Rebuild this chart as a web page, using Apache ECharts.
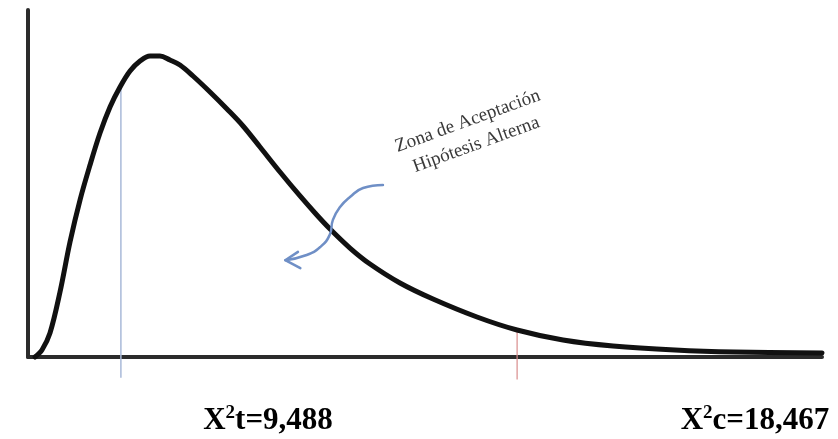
<!DOCTYPE html>
<html>
<head>
<meta charset="utf-8">
<script src="https://cdn.jsdelivr.net/npm/echarts@6/dist/echarts.min.js"></script>
<style>
html,body{margin:0;padding:0;background:#fff;}
#chart{width:838px;height:439px;}
</style>
</head>
<body>
<div id="chart"></div>
<script>
// Curve (arbitrary units: x 0-100, y 0-100)
var curveX = [0.88, 1.76, 2.77, 4.03, 5.29, 6.55, 7.81, 9.07, 10.33, 11.59, 12.85, 14.11, 15.37, 16.62, 17.88, 19.14, 20.78, 22.92, 25.06, 27.08, 29.22, 31.74, 34.26, 36.15, 38.04, 40.55, 43.07, 46.85, 51.01, 56.55, 61.59, 67.38, 73.68, 81.49, 89.04, 100];
var curveY = [0, 2.02, 6.92, 18.73, 33.14, 45.24, 55.33, 64.55, 72.05, 77.81, 82.42, 85.30, 86.74, 86.74, 85.59, 84.15, 80.98, 76.37, 71.47, 66.57, 60.52, 53.31, 46.40, 41.50, 36.89, 31.41, 26.80, 21.33, 16.71, 11.53, 7.78, 4.90, 3.17, 2.02, 1.44, 1.15];

// Critical value markers
var tableLineX = [11.7, 11.7];
var tableLineY = [78, -6];
var calcLineX = [61.6, 61.6];
var calcLineY = [7.8, -6.5];

// Annotation arrow
var arrowX = [44.7, 42.2, 40.55, 39.3, 38.4, 38.0, 36.8, 35.1, 32.4];
var arrowY = [49.6, 48.7, 46.1, 43.2, 39.5, 35.2, 31.7, 29.4, 27.9];
var headX = [34.0, 32.4, 34.3];
var headY = [30.3, 27.9, 25.6];

// Texts
var tableLabel = ['X', '2', 't=9,488'];
var calcLabel = ['X', '2', 'c=18,467'];
var noteText = 'Zona de Aceptación\nHipótesis Alterna';

function zip(a, b) { return a.map(function (v, i) { return [v, b[i]]; }); }
function supText(parts) { return '{a|' + parts[0] + '}{s|' + parts[1] + '}{a|' + parts[2] + '}'; }

var richStyle = {
  a: { fontFamily: 'Liberation Serif', fontWeight: 'bold', fontSize: 31, fill: '#000', lineHeight: 34 },
  s: { fontFamily: 'Liberation Serif', fontWeight: 'bold', fontSize: 19, fill: '#000', verticalAlign: 'top', lineHeight: 34, padding: [0, 0, 14, 0] }
};

var chart = echarts.init(document.getElementById('chart'));
chart.setOption({
  animation: false,
  backgroundColor: '#fff',
  grid: { left: 28, right: 16, top: 10, bottom: 82 },
  xAxis: {
    type: 'value', min: 0, max: 100,
    axisLine: { show: true, onZero: false, lineStyle: { color: '#2b2b2b', width: 4 } },
    axisTick: { show: false }, axisLabel: { show: false }, splitLine: { show: false }
  },
  yAxis: {
    type: 'value', min: 0, max: 100,
    axisLine: { show: true, lineStyle: { color: '#2b2b2b', width: 4 } },
    axisTick: { show: false }, axisLabel: { show: false }, splitLine: { show: false }
  },
  series: [
    { type: 'line', data: zip(tableLineX, tableLineY), symbol: 'none', clip: false,
      lineStyle: { color: '#a9b9d9', width: 1.5 }, z: 1 },
    { type: 'line', data: zip(calcLineX, calcLineY), symbol: 'none', clip: false,
      lineStyle: { color: '#d98c8c', width: 1.2 }, z: 1 },
    { type: 'line', data: zip(curveX, curveY), symbol: 'none', smooth: 0.35, clip: false,
      lineStyle: { color: '#111', width: 5, cap: 'round', join: 'round' }, z: 3 },
    { type: 'line', data: zip(arrowX, arrowY), symbol: 'none', smooth: 0.5, clip: false,
      lineStyle: { color: '#6f8fc6', width: 2.5, cap: 'round' }, z: 4 },
    { type: 'line', data: zip(headX, headY), symbol: 'none', clip: false,
      lineStyle: { color: '#6f8fc6', width: 2.5, cap: 'round', join: 'round' }, z: 4 }
  ],
  graphic: [
    { type: 'text', x: 268, y: 421, style: { text: supText(tableLabel), rich: richStyle, align: 'center', verticalAlign: 'middle' } },
    { type: 'text', x: 755, y: 421, style: { text: supText(calcLabel), rich: richStyle, align: 'center', verticalAlign: 'middle' } },
    { type: 'text', x: 472, y: 133, rotation: 20 * Math.PI / 180,
      style: { text: noteText, fontFamily: 'Liberation Serif', fontSize: 19, lineHeight: 25, fill: '#3a3a3a', align: 'center', verticalAlign: 'middle' } }
  ]
});
</script>
</body>
</html>
